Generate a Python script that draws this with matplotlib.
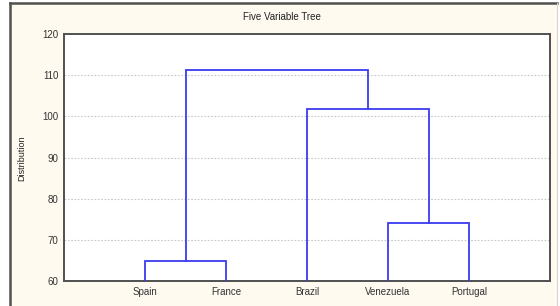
import matplotlib
matplotlib.use("Agg")
import matplotlib.pyplot as plt
from matplotlib.lines import Line2D

# ── Data ──────────────────────────────────────────────────────────────────────
leaves = ["Spain", "France", "Brazil", "Venezuela", "Portugal"]
# merges: (left member, right member, height); members are leaf names or merge ids
merges = [
    ("Spain", "France", 64.8),        # m0
    ("Venezuela", "Portugal", 74.0),  # m1
    ("Brazil", "m1", 101.9),          # m2
    ("m0", "m2", 111.2),              # m3
]
yticks = [60, 70, 80, 90, 100, 110, 120]

BG = "#fefaf0"
FRAME = "#505050"
LINE = "#3a3af0"
GRID = "#c8c8c8"

fig = plt.figure(figsize=(5.6, 3.06), dpi=100)
fig.patch.set_facecolor("white")

# cream panel with the dark frame on left/top
fig.patches.append(plt.Rectangle((10 / 560, 0), 547 / 560, 1 - 2 / 306,
                                 transform=fig.transFigure, facecolor=BG,
                                 edgecolor="none", zorder=-5))
fig.lines.append(Line2D([10 / 560, 10 / 560], [0, 1 - 2.5 / 306],
                        transform=fig.transFigure, color=FRAME, lw=1.8,
                        zorder=-4))
fig.lines.append(Line2D([10 / 560, 557 / 560], [1 - 2.5 / 306, 1 - 2.5 / 306],
                        transform=fig.transFigure, color=FRAME, lw=1.8,
                        zorder=-4))
fig.lines.append(Line2D([557 / 560, 557 / 560], [0, 1 - 2.5 / 306],
                        transform=fig.transFigure, color="#d8d4cc", lw=0.8,
                        zorder=-4))

ax = fig.add_axes([64 / 560, 25 / 306, 486 / 560, 247 / 306])
ax.set_facecolor("white")
ax.set_zorder(2)

# ── Dendrogram ────────────────────────────────────────────────────────────────
pos = {name: (i + 1, 60) for i, name in enumerate(leaves)}
for k, (a, b, h) in enumerate(merges):
    xa, ya = pos[a]
    xb, yb = pos[b]
    ax.plot([xa, xa, xb, xb], [ya, h, h, yb], color=LINE, lw=1.3,
            solid_joinstyle="miter", zorder=3)
    pos[f"m{k}"] = ((xa + xb) / 2, h)

ax.set_xlim(0, len(leaves) + 1)
ax.set_ylim(60, 120)
ax.set_xticks(range(1, len(leaves) + 1))
ax.set_xticklabels(leaves)
ax.set_yticks(yticks)

for y in yticks[1:-1]:
    ax.axhline(y, color=GRID, lw=0.8, ls=(0, (1.5, 1.5)), zorder=1)

ax.tick_params(length=0, labelsize=7, colors="#333333", pad=4)
for lbl in ax.get_xticklabels() + ax.get_yticklabels():
    lbl.set_fontfamily("Liberation Sans")
for s in ax.spines.values():
    s.set_color(FRAME)
    s.set_linewidth(1.4)

fig.text(282 / 560, 1 - 17 / 306, "Five Variable Tree", ha="center",
         va="center", fontsize=7, color="#222222", family="Liberation Sans")
fig.text(22 / 560, 1 - 158 / 306, "Distribution", ha="center", va="center",
         rotation=90, fontsize=6.5, color="#222222", family="Liberation Sans")

fig.savefig("out.png", dpi=100, facecolor=fig.get_facecolor())
